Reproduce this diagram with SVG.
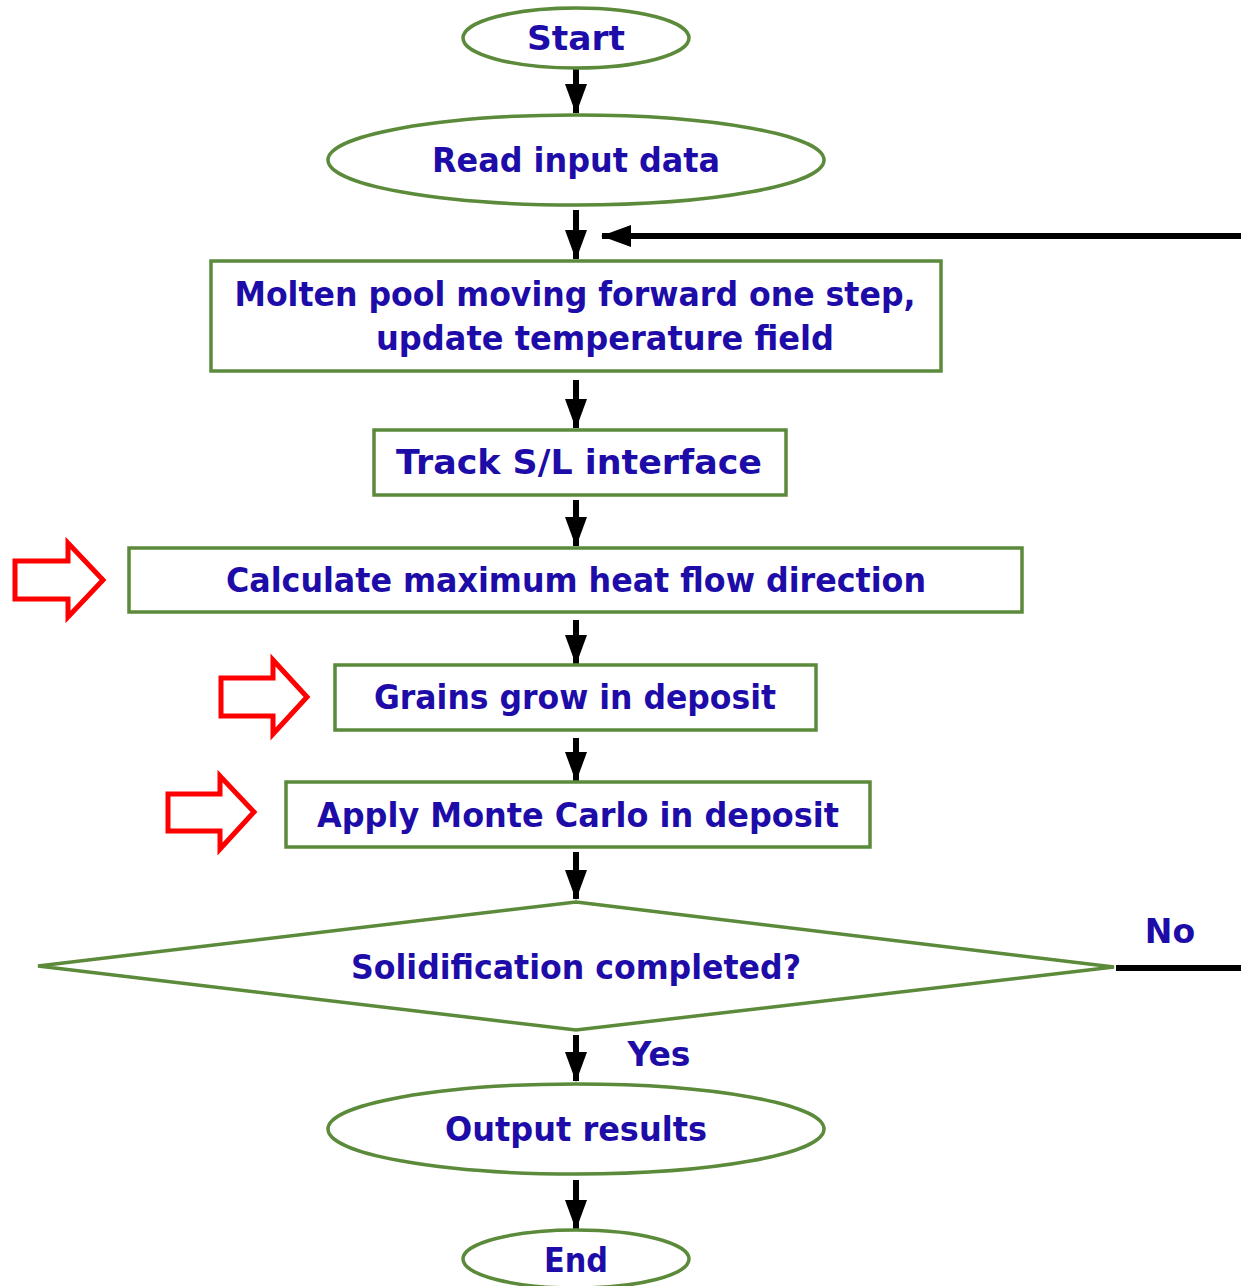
<svg xmlns="http://www.w3.org/2000/svg" width="1241" height="1286" viewBox="0 0 1241 1286">
<defs>
<style>
.n{fill:#fff;stroke:#5b8a3a;stroke-width:3.5}
.t{font-family:"DejaVu Sans",sans-serif;font-weight:bold;font-size:33px;fill:#1d0ca8;text-anchor:middle}
.c{stroke:#000;stroke-width:6;fill:none}
.r{fill:#fff;stroke:#f00;stroke-width:5}
</style>
<marker id="ah" markerUnits="userSpaceOnUse" markerWidth="30" markerHeight="22" refX="29" refY="11" orient="auto" viewBox="0 0 30 22"><path d="M0,0 L30,11 L0,22 Z" fill="#000"/></marker>
</defs>
<rect width="1241" height="1286" fill="#fff"/>
<g id="connectors">
<line class="c" x1="576" y1="68" x2="576" y2="113" marker-end="url(#ah)"/>
<line class="c" x1="576" y1="210" x2="576" y2="259" marker-end="url(#ah)"/>
<line class="c" x1="1241" y1="236" x2="602" y2="236" marker-end="url(#ah)"/>
<line class="c" x1="576" y1="380" x2="576" y2="428" marker-end="url(#ah)"/>
<line class="c" x1="576" y1="500" x2="576" y2="546" marker-end="url(#ah)"/>
<line class="c" x1="576" y1="620" x2="576" y2="664" marker-end="url(#ah)"/>
<line class="c" x1="576" y1="738" x2="576" y2="781" marker-end="url(#ah)"/>
<line class="c" x1="576" y1="852" x2="576" y2="899" marker-end="url(#ah)"/>
<line class="c" x1="1116" y1="968" x2="1241" y2="968"/>
<line class="c" x1="576" y1="1035" x2="576" y2="1081" marker-end="url(#ah)"/>
<line class="c" x1="576" y1="1180" x2="576" y2="1229" marker-end="url(#ah)"/>
<text class="t" x="1170" y="943">No</text>
<text class="t" x="659" y="1066">Yes</text>
</g>
<g id="start"><ellipse class="n" cx="576" cy="38" rx="113" ry="30"/><text class="t" x="576" y="50" textLength="98" lengthAdjust="spacingAndGlyphs">Start</text></g>
<g id="read"><ellipse class="n" cx="576" cy="160" rx="248" ry="45"/><text class="t" x="576" y="172" textLength="288" lengthAdjust="spacingAndGlyphs">Read input data</text></g>
<g id="molten"><rect class="n" x="211" y="261" width="730" height="110"/>
<text class="t" x="575" y="306" textLength="681" lengthAdjust="spacingAndGlyphs">Molten pool moving forward one step,</text>
<text class="t" x="605" y="350" textLength="458" lengthAdjust="spacingAndGlyphs">update temperature field</text></g>
<g id="track"><rect class="n" x="374" y="430" width="412" height="65"/><text class="t" x="579" y="474" textLength="366" lengthAdjust="spacingAndGlyphs">Track S/L interface</text></g>
<g id="calc"><rect class="n" x="129" y="548" width="893" height="64"/><text class="t" x="576" y="592" textLength="700" lengthAdjust="spacingAndGlyphs">Calculate maximum heat flow direction</text></g>
<g id="grains"><rect class="n" x="335" y="665" width="481" height="65"/><text class="t" x="575" y="709" textLength="402" lengthAdjust="spacingAndGlyphs">Grains grow in deposit</text></g>
<g id="apply"><rect class="n" x="286" y="782" width="584" height="65"/><text class="t" x="578" y="827" textLength="522" lengthAdjust="spacingAndGlyphs">Apply Monte Carlo in deposit</text></g>
<g id="decision"><polygon class="n" points="576,902 1114,967 576,1030 38,966"/><text class="t" x="576" y="979" textLength="450" lengthAdjust="spacingAndGlyphs">Solidification completed?</text></g>
<g id="output"><ellipse class="n" cx="576" cy="1129" rx="248" ry="45"/><text class="t" x="576" y="1141" textLength="262" lengthAdjust="spacingAndGlyphs">Output results</text></g>
<g id="end"><ellipse class="n" cx="576" cy="1259" rx="113" ry="29"/><text class="t" x="576" y="1272" textLength="64" lengthAdjust="spacingAndGlyphs">End</text></g>
<g id="markers">
<polygon class="r" points="15,561 68,561 68,543 103,580 68,617 68,599 15,599"/>
<polygon class="r" points="221,678 273,678 273,660 307,697 273,734 273,716 221,716"/>
<polygon class="r" points="168,794 220,794 220,776 254,812 220,849 220,831 168,831"/>
</g>
</svg>
